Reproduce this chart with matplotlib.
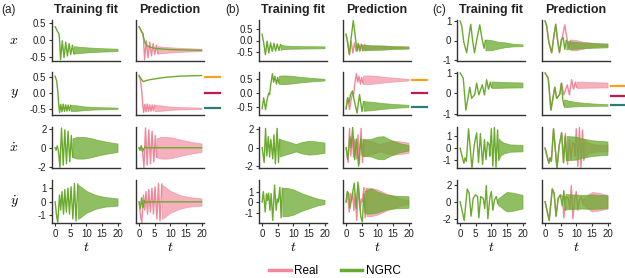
import matplotlib
matplotlib.use('Agg')
import matplotlib.pyplot as plt
import matplotlib.transforms as mtransforms
from matplotlib.lines import Line2D

plt.rcParams['font.family'] = ['Liberation Sans', 'DejaVu Sans']
plt.rcParams['mathtext.fontset'] = 'cm'
plt.rcParams['axes.unicode_minus'] = False

# ---------------- data ----------------
# paths: (t, value) ; bands (dense oscillation envelope): (t, low, high)
# column (a)
a_x_real_path = [(0, 0.40), (0.4, 0.33), (0.8, 0.25), (1.2, 0.20), (1.4, 0.05), (1.75, -0.58), (2.3, -0.02),
                 (2.85, -0.52), (3.4, -0.06), (3.95, -0.47), (4.5, -0.10), (5.0, -0.43), (5.55, -0.15), (6.0, -0.40)]
a_x_real_band = [(6.0, -0.40, -0.18), (8, -0.38, -0.20), (11, -0.36, -0.22), (15, -0.34, -0.24), (20, -0.325, -0.255)]
a_x_pred_path = [(0, 0.40), (0.4, 0.33), (0.8, 0.25), (1.2, 0.20), (1.5, 0.05), (2.0, -0.10), (2.6, -0.17),
                 (3.5, -0.21), (5, -0.24), (7, -0.26), (10, -0.28), (14, -0.29), (20, -0.30)]
a_x_pred_band = []
a_y_real_path = [(0, 0.53), (0.5, 0.38), (0.9, 0.0), (1.2, -0.40), (1.45, -0.60), (1.8, -0.35), (2.2, -0.58),
                 (2.6, -0.34), (3.0, -0.57), (3.4, -0.36), (3.8, -0.56), (4.2, -0.37), (4.6, -0.55), (5.0, -0.38)]
a_y_real_band = [(5.0, -0.56, -0.37), (7, -0.55, -0.38), (9, -0.53, -0.41), (12, -0.51, -0.43), (16, -0.50, -0.44),
                 (20, -0.49, -0.45)]
a_y_pred_path = [(0, 0.55), (0.5, 0.47), (1.0, 0.40), (1.4, 0.36), (2.5, 0.40), (4, 0.43), (6, 0.46), (9, 0.50),
                 (13, 0.53), (20, 0.55)]
a_y_pred_band = []
a_xd_real_path = [(0, 0.0), (0.3, -0.25), (0.7, 0.2), (1.1, -0.45), (1.55, -2.1), (2.05, 2.1), (2.6, -1.85),
                  (3.1, 1.9), (3.65, -1.7), (4.15, 1.75), (4.7, -1.5), (5.2, 1.3), (5.6, -1.0)]
a_xd_real_band = [(5.6, -1.0, 1.0), (7, -1.15, 1.15), (9, -1.15, 1.15), (11, -1.05, 1.05), (14, -0.8, 0.8),
                  (17, -0.6, 0.6), (20, -0.45, 0.45)]
a_xd_pred_path = [(0, 0.0), (0.3, -0.25), (0.7, 0.2), (1.1, -0.4), (1.5, -0.1), (1.9, 0.1), (2.3, 0.0),
                  (5, 0.0), (10, 0.0), (20, 0.0)]
a_xd_pred_band = []
a_yd_real_path = [(0, 0.0), (0.5, -1.1), (0.85, -1.5), (1.4, 0.5), (1.8, -0.6), (2.2, 0.75), (2.7, -0.9),
                  (3.1, 0.9), (3.6, -0.75), (4.1, 1.0), (4.6, -0.9), (5.1, 1.1), (5.7, -1.25), (6.2, 1.35),
                  (6.7, -1.4), (7.3, 1.3)]
a_yd_real_band = [(7.3, -1.25, 1.25), (8, -1.15, 1.15), (10, -0.8, 0.8), (13, -0.5, 0.5), (16, -0.35, 0.35),
                  (20, -0.28, 0.25)]
a_yd_pred_path = [(0, 0.0), (0.4, -0.5), (0.8, 0.3), (1.2, -0.45), (1.6, 0.1), (2.0, -0.05), (2.5, 0.0), (20, 0.0)]
a_yd_pred_band = []

# column (b)
b_x_real_path = [(0, 0.26), (0.5, -0.10), (1.05, -0.60), (1.6, -0.03), (2.15, -0.53), (2.7, -0.10), (3.25, -0.46),
                 (3.8, -0.12), (4.3, -0.45), (4.85, -0.15), (5.4, -0.42), (5.9, -0.17)]
b_x_real_band = [(5.9, -0.40, -0.17), (7, -0.36, -0.21), (9, -0.35, -0.23), (13, -0.34, -0.24), (20, -0.33, -0.25)]
b_x_pred_path = [(0, 0.26), (0.5, -0.10), (1.05, -0.60), (1.6, 0.1), (2.3, 0.85), (2.9, 0.2), (3.5, -0.45),
                 (4.0, -0.15), (4.5, -0.42), (5.0, -0.18)]
b_x_pred_band = [(5.0, -0.42, -0.18), (8, -0.40, -0.20), (12, -0.39, -0.21), (15, -0.36, -0.24), (20, -0.34, -0.26)]
b_y_real_path = [(0, -0.55), (0.5, -0.16), (1.1, -0.58), (1.6, -0.22), (2.1, 0.0), (2.4, -0.05), (2.75, 0.30),
                 (3.3, 0.69), (3.7, 0.39), (4.1, 0.60), (4.6, 0.32), (5.0, 0.56), (5.4, 0.36)]
b_y_real_band = [(5.4, 0.33, 0.62), (7, 0.32, 0.63), (9, 0.34, 0.62), (12, 0.38, 0.58), (16, 0.42, 0.54),
                 (20, 0.45, 0.51)]
b_y_pred_path = [(0, -0.55), (0.5, -0.16), (0.9, -0.35), (1.4, -0.05), (2.0, 0.08), (2.8, -0.35), (3.5, -0.70),
                 (4.3, -0.05), (5.1, -0.65), (5.6, -0.30)]
b_y_pred_band = [(5.6, -0.62, -0.28), (8, -0.60, -0.30), (11, -0.56, -0.34), (15, -0.52, -0.38), (20, -0.49, -0.41)]
b_xd_real_path = [(0, 0.0), (0.65, -1.6), (1.1, 2.1), (1.5, -0.9), (2.0, 1.2), (2.4, -1.0), (2.8, 0.9),
                  (3.4, -1.2), (3.8, 1.4), (4.25, -1.75), (4.8, 2.1), (5.25, -1.6), (5.6, 0.9)]
b_xd_real_band = [(5.6, -0.95, 0.95), (7, -0.8, 0.8), (9, -0.6, 0.6), (10.8, -0.4, 0.4), (12.5, -0.6, 0.6),
                  (15, -0.75, 0.75), (17, -0.7, 0.7), (20, -0.55, 0.55)]
b_xd_pred_path = [(0, 0.0), (0.5, -1.3), (1.2, 1.2), (1.6, 0.0), (2.1, 2.2), (2.75, -1.3), (3.3, 0.95),
                  (4.0, -2.0), (4.7, 1.0), (5.2, -0.8)]
b_xd_pred_band = [(5.2, -0.9, 0.9), (8, -0.95, 0.95), (10, -1.2, 1.2), (12, -1.25, 1.25), (14, -0.9, 0.9),
                  (17, -0.5, 0.5), (20, -0.3, 0.3)]
b_yd_real_path = [(0, 0.0), (0.4, 1.0), (1.0, -0.95), (1.4, 0.8), (1.7, 0.15), (2.1, 0.85), (2.5, -0.8),
                  (2.9, 0.8), (3.4, -1.75), (4.0, 1.6), (4.5, -0.8), (4.9, 0.3), (5.2, 0.0), (5.7, 1.4),
                  (6.1, -1.5), (6.5, 1.3)]
b_yd_real_band = [(6.5, -1.35, 1.35), (8, -1.35, 1.35), (10, -1.2, 1.2), (13, -0.8, 0.8), (16, -0.5, 0.5),
                  (18, -0.3, 0.3), (20, -0.2, 0.2)]
b_yd_pred_path = [(0, 0.0), (0.4, 1.0), (0.8, 0.8), (1.2, -0.6), (1.8, 0.35), (2.6, 1.8), (3.2, -0.6),
                  (3.8, 1.9), (4.7, -1.4), (5.2, -1.9), (5.7, 0.8), (6.1, -1.0)]
b_yd_pred_band = [(6.1, -1.1, 1.1), (8, -1.1, 1.3), (10, -1.0, 1.0), (13, -0.7, 0.7), (16, -0.6, 0.6),
                  (20, -0.55, 0.55)]

# column (c)
c_x_real_path = [(0, 1.0), (0.5, 0.75), (1.2, -0.1), (2.1, -0.63), (2.8, 0.2), (3.4, 0.83), (4.0, 0.0),
                 (4.6, -0.63), (5.3, 0.0), (6.3, 0.8), (7.0, 0.1), (7.7, -0.4), (8.1, 0.0)]
c_x_real_band = [(8.1, -0.5, 0.05), (10, -0.5, 0.02), (12, -0.42, -0.06), (14.5, -0.34, -0.1), (17, -0.3, -0.17),
                 (20, -0.29, -0.2)]
c_x_pred_path = [(0, 1.0), (0.5, 0.75), (1.2, -0.1), (2.1, -0.63), (2.8, 0.2), (3.4, 0.83), (4.0, 0.0),
                 (4.6, -0.6), (5.2, 0.05), (5.8, 0.15), (6.3, -0.45), (6.8, 0.0)]
c_x_pred_band = [(6.8, -0.45, -0.02), (10, -0.42, -0.08), (14, -0.38, -0.12), (20, -0.35, -0.15)]
c_y_real_path = [(0, 1.0), (1.0, 0.75), (1.85, -0.83), (3.1, 0.3), (3.7, -0.25), (4.7, -0.05), (5.3, 0.5),
                 (6.0, -0.08), (7.1, 0.42), (7.8, -0.08), (8.5, 0.67), (9.1, 0.2), (9.7, 0.55), (10.1, 0.3)]
c_y_real_band = [(10.1, 0.26, 0.58), (12, 0.27, 0.57), (15, 0.28, 0.55), (20, 0.29, 0.53)]
c_y_pred_path = [(0, 1.0), (1.0, 0.75), (1.85, -0.83), (3.1, 0.3), (3.7, -0.25), (4.7, -0.05), (5.2, 0.5),
                 (5.7, -0.35), (6.1, -0.62)]
c_y_pred_band = [(6.1, -0.68, -0.3), (8, -0.66, -0.38), (11, -0.63, -0.45), (15, -0.62, -0.5), (20, -0.61, -0.54)]
c_xd_real_path = [(0, 0.0), (0.5, -0.55), (1.2, -1.25), (1.6, -0.8), (2.0, -1.1), (2.7, 1.6), (3.8, -1.7),
                  (4.5, 0.2), (5.3, 1.27), (5.9, -1.2), (6.5, 1.2), (7.2, -1.35), (7.8, 0.7), (8.3, -0.95),
                  (8.8, 0.5), (9.3, 0.27), (9.5, -0.67), (10.0, 1.6), (10.5, -1.5), (11.0, 1.7), (11.5, -1.6),
                  (12.0, 1.5), (12.4, -1.0)]
c_xd_real_band = [(12.4, -0.9, 0.8), (13, -0.6, 0.6), (14, -0.45, 0.45), (16, -0.3, 0.3), (20, -0.27, 0.27)]
c_xd_pred_path = [(0, 0.0), (0.5, -0.55), (1.2, -1.25), (1.6, -0.8), (2.0, -1.1), (2.7, 1.6), (3.8, -1.7),
                  (4.5, 0.2), (5.3, 1.27), (5.9, -1.2), (6.4, 1.0), (6.9, -1.0)]
c_xd_pred_band = [(6.9, -1.0, 1.0), (10, -0.95, 0.95), (12, -0.8, 0.8), (15, -0.65, 0.65), (20, -0.55, 0.55)]
c_yd_real_path = [(0, 0.0), (1.3, -2.2), (2.3, 1.5), (2.9, 1.0), (3.5, -1.7), (4.2, 0.4), (4.9, 0.8), (5.6, 0.6),
                  (6.0, -1.9), (6.6, 0.6), (7.4, 0.4), (7.9, -0.8), (8.4, 1.9), (8.9, -2.0), (9.5, 0.4),
                  (10.0, 1.2), (10.5, -1.0), (11.0, 0.2), (11.6, 0.6), (12.1, -0.2)]
c_yd_real_band = [(12.1, -0.35, 0.35), (13, -0.6, 0.6), (14, -0.9, 0.9), (15, -1.15, 1.15), (17, -1.05, 1.05),
                  (20, -0.8, 0.8)]
c_yd_pred_path = [(0, 0.0), (1.3, -2.2), (2.3, 1.5), (2.9, 1.0), (3.5, -1.7), (4.2, 0.4), (4.9, 0.8),
                  (5.5, -0.5), (6.0, 1.3), (6.5, -1.0)]
c_yd_pred_band = [(6.5, -0.9, 0.9), (9, -0.85, 0.85), (12, -0.8, 0.8), (15, -0.85, 0.85), (20, -0.75, 0.75)]

# fixed points marked to the right of the y-prediction panels
a_fixed_points = [0.5, 0.0, -0.47]
b_fixed_points = [0.47, 0.0, -0.48]
c_fixed_points = [0.37, -0.12, -0.6]

var_labels = [r'$x$', r'$y$', r'$\dot{x}$', r'$\dot{y}$']
x_ticks = [0, 5, 10, 15, 20]
y_ticks_ab = [[-0.5, 0.0, 0.5], [-0.5, 0.0, 0.5], [-2, 0, 2], [-1, 0, 1]]
y_ticks_c = [[-1, 0, 1], [-1, 0, 1], [-1, 0, 1], [-2, 0, 2]]
col_titles = ['Training fit', 'Prediction']
panel_letters = ['(a)', '(b)', '(c)']
legend_labels = ['Real', 'NGRC']

# ---------------- layout ----------------
W, H = 625, 278
fig = plt.figure(figsize=(W / 100, H / 100), dpi=100)

PINK = '#f0879a'
GREEN = '#6aaa2e'
FP_COLORS = ['#f6a11d', '#c8174f', '#2e7b7b']
SPINE = '#333333'

col_px = {'a': (52, 136), 'b': (259, 343), 'c': (457, 542)}
letter_px = {'a': 1, 'b': 225, 'c': 432}
AXW = 68
rows_px = [(20, 61), (72, 115), (127, 168), (180, 223)]
ylims = {
    'a': [(-0.62, 0.6), (-0.68, 0.66), (-2.15, 2.2), (-1.55, 1.6)],
    'b': [(-0.87, 0.87), (-0.77, 0.75), (-2.2, 2.25), (-2.0, 2.1)],
    'c': [(-1.05, 1.05), (-1.07, 1.05), (-1.65, 1.75), (-2.5, 2.55)],
}
yticks = {'a': y_ticks_ab, 'b': y_ticks_ab, 'c': y_ticks_c}
fixed = {'a': a_fixed_points, 'b': b_fixed_points, 'c': c_fixed_points}

data = {}
g = globals()
for c in 'abc':
    for v in ['x', 'y', 'xd', 'yd']:
        data[(c, v)] = dict(real=(g[f'{c}_{v}_real_path'], g[f'{c}_{v}_real_band']),
                            pred=(g[f'{c}_{v}_pred_path'], g[f'{c}_{v}_pred_band']))


def draw(ax, series, color, z, alpha):
    path, band = series
    t = [p[0] for p in path]
    val = [p[1] for p in path]
    if band:
        bt = [b[0] for b in band]
        lo = [b[1] for b in band]
        hi = [b[2] for b in band]
        ax.fill_between(bt, lo, hi, color=color, alpha=alpha, lw=0.6, zorder=z)
    ax.plot(t, val, color=color, lw=1.0, zorder=z + 0.1, solid_joinstyle='round')


def style(ax, r, show_y, c):
    for s in ['top', 'right']:
        ax.spines[s].set_visible(False)
    for s in ['left', 'bottom']:
        ax.spines[s].set_color(SPINE)
        ax.spines[s].set_linewidth(1.0)
    ax.set_xlim(-1, 20.8)
    ax.set_ylim(*ylims[c][r])
    ax.tick_params(length=2.5, width=0.8, color=SPINE, labelsize=7, pad=1.5, labelcolor='#222222')
    if r == 3:
        ax.set_xticks(x_ticks)
        ax.set_xticklabels([str(t) for t in x_ticks])
        ax.set_xlabel(r'$t$', fontsize=10, labelpad=1)
    else:
        ax.set_xticks([])
    if show_y:
        ticks = yticks[c][r]
        ax.set_yticks(ticks)
        if r < 2 and c != 'c':
            ax.set_yticklabels([f'{t:.1f}' for t in ticks])
        else:
            ax.set_yticklabels([f'{t:d}' for t in ticks])
    else:
        ax.set_yticks([])


vars_ = ['x', 'y', 'xd', 'yd']
for ci, c in enumerate('abc'):
    for k in range(2):
        left = col_px[c][k]
        for r, (top, bot) in enumerate(rows_px):
            ax = fig.add_axes([left / W, 1 - bot / H, AXW / W, (bot - top) / H])
            d = data[(c, vars_[r])]
            if k == 0:
                # training fit: NGRC fit lies on top of the real trajectory
                draw(ax, d['real'], GREEN, 3, 0.75)
            else:
                draw(ax, d['real'], PINK, 2, 0.65)
                draw(ax, d['pred'], GREEN, 3, 0.75)
            style(ax, r, k == 0, c)
            if k == 1 and r == 1:
                tr = mtransforms.blended_transform_factory(ax.transAxes, ax.transData)
                for fv, fc in zip(fixed[c], FP_COLORS):
                    ax.plot([1.02, 1.23], [fv, fv], transform=tr, clip_on=False, color=fc, lw=1.6)
        fig.text((left + AXW / 2) / W, 1 - 10 / H, col_titles[k], ha='center', va='center',
                 fontsize=9, fontweight='bold', color='#222222')
    fig.text(letter_px[c] / W, 1 - 10 / H, panel_letters[ci], ha='left', va='center',
             fontsize=8.5, color='#222222')

for r, (top, bot) in enumerate(rows_px):
    fig.text(14 / W, 1 - (top + bot) / 2 / H, var_labels[r], ha='center', va='center', fontsize=10)

handles = [Line2D([], [], color=PINK, lw=2.5), Line2D([], [], color=GREEN, lw=2.5)]
fig.legend(handles, legend_labels, loc='center', bbox_to_anchor=(335 / W, 1 - 271 / H), ncol=2,
           frameon=False, fontsize=8.5, handlelength=1.8, columnspacing=1.9, handletextpad=0.3,
           borderpad=0.1)

fig.savefig('out.png', dpi=100)
